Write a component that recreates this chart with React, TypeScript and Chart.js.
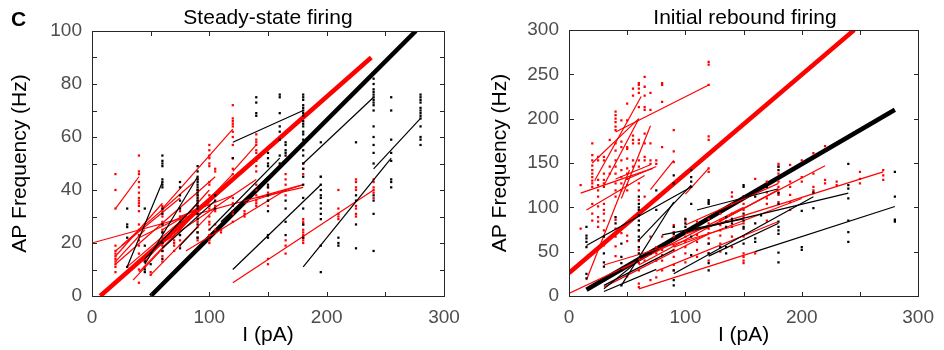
import React, { useEffect, useRef } from 'react';
import { Chart, registerables } from 'chart.js';

Chart.register(...registerables);

type Col = [number, number[]];
type Seg = [number, number, number, number];

const FONT = "'Liberation Sans', Arial, Helvetica, sans-serif";

// ---------- tick labels ----------
const xTickLabels = [0, 100, 200, 300];
const leftYTickLabels = [0, 20, 40, 60, 80, 100];
const rightYTickLabels = [0, 50, 100, 150, 200, 250, 300];

// ---------- LEFT: Steady-state firing ----------
const leftThickRed: Seg = [7, 0, 238, 90];
const leftThickBlack: Seg = [50, 0, 276, 100];

const leftBlackLines: Seg[] = [
  [120, 58, 180, 70], [180, 50, 240, 75], [240, 48, 280, 67], [180, 11, 255, 52],
  [120, 10, 195, 42], [30, 11, 60, 43], [45, 12, 90, 45], [45, 14, 90, 35],
  [60, 18, 105, 36], [75, 19, 90, 26], [100, 25, 160, 52], [110, 28, 150, 45],
];

const leftRedLines: Seg[] = [
  [120, 5, 240, 40], [0, 20, 180, 42], [20, 33, 40, 45], [60, 33, 120, 63],
  [120, 47, 140, 57], [20, 15, 60, 35], [20, 12, 105, 45], [20, 17, 75, 37],
  [30, 11, 75, 28], [35, 6, 90, 32], [40, 9, 120, 46], [45, 13, 100, 40],
  [60, 20, 140, 44], [80, 17, 165, 40], [130, 35, 180, 42], [140, 37, 180, 41],
  [25, 19, 87, 43], [20, 13, 45, 25], [40, 22, 100, 35], [50, 8, 105, 33],
  [60, 25, 100, 36], [75, 30, 120, 38],
];

const leftRedPoints: Col[] = [
  [20, [46, 40, 33, 19, 17, 16, 15, 14, 13, 12, 11, 9]],
  [40, [53, 47, 46, 43, 41, 39, 37, 36, 35, 34, 32, 27, 25, 23, 21, 19, 16, 10, 5]],
  [45, [14, 13, 11]],
  [50, [9, 8]],
  [60, [34, 33, 32, 30, 28, 27, 25, 24, 22, 20, 19, 17, 15, 13]],
  [70, [25, 24, 21, 20, 19, 17]],
  [75, [32, 30, 29, 27, 25, 23, 21, 19]],
  [90, [44, 40, 38, 36, 34, 33, 32, 30, 28, 26, 24, 22, 21]],
  [100, [57, 55, 53, 52, 50, 49, 43, 42, 38, 36, 34, 33, 30, 28, 27, 25, 23, 21, 20]],
  [105, [48, 47, 34, 32, 27, 25]],
  [110, [25, 24]],
  [120, [72, 67, 66, 65, 64, 62, 60, 57, 52, 48, 46, 37, 35, 34, 32, 31, 28]],
  [130, [32, 31, 30]],
  [140, [61, 59, 58, 57, 55, 54, 52, 51, 49, 47, 42, 40, 38, 36, 35, 34]],
  [150, [41, 39, 38, 36, 34, 14, 12]],
  [165, [46, 44, 42, 40, 38, 21, 19, 16]],
  [180, [50, 48, 46, 29, 28, 27, 25, 24, 23, 22, 21, 20]],
  [195, [45]],
  [210, [40, 33, 31, 30, 29]],
  [225, [44, 43, 41, 40, 34, 33, 31, 30]],
  [240, [44, 43, 41, 40, 39, 37]],
];

const leftBlackPoints: Col[] = [
  [30, [33, 27, 26, 22, 11]],
  [45, [33, 19, 13, 10, 9]],
  [50, [12]],
  [60, [53, 51, 50, 49, 44, 43, 42, 41, 33, 31, 27, 24, 20, 17, 14]],
  [75, [43, 41, 38, 36, 33, 28, 23, 18]],
  [90, [49, 47, 45, 44, 43, 42, 41, 40, 39, 38, 37, 36, 35, 34, 33, 31, 29, 27, 24, 22]],
  [105, [38, 36, 33]],
  [120, [52]],
  [140, [75, 73, 69, 68]],
  [150, [54, 52, 50, 49, 42, 41, 38, 36, 32, 23, 22]],
  [160, [76, 75, 69, 64, 62, 59, 53, 50]],
  [165, [58, 57, 55, 54, 53, 36, 33, 28, 23]],
  [180, [76, 75, 74, 72, 71, 70, 69, 68, 66, 65, 64, 62, 61, 59, 57, 55, 53, 50, 48, 45, 42, 37, 33, 27, 22]],
  [195, [58, 45, 42, 40, 38, 37, 35, 33, 31, 29, 19, 9]],
  [210, [22, 20, 19]],
  [225, [58, 38, 36, 27, 18]],
  [240, [82, 80, 78, 77, 76, 75, 74, 73, 72, 70, 64, 60, 57, 54, 50, 38, 36, 31, 17]],
  [255, [75, 70, 59, 54, 51, 44, 43, 41]],
  [280, [76, 75, 74, 73, 71, 70, 69, 68, 67, 64, 60, 59, 57]],
];

// ---------- RIGHT: Initial rebound firing ----------
const rightThickRed: Seg = [0, 26, 245, 300];
const rightThickBlack: Seg = [15, 7, 280, 210];

const rightRedLines: Seg[] = [
  [40, 185, 120, 238], [20, 150, 60, 200], [22, 130, 62, 225], [30, 125, 60, 200],
  [45, 110, 70, 192], [40, 132, 70, 148], [50, 132, 75, 146], [70, 120, 90, 153],
  [100, 115, 120, 144], [10, 116, 72, 144], [15, 97, 65, 136], [15, 18, 52, 142],
  [0, 3, 60, 40], [30, 35, 150, 82], [60, 8, 160, 50], [75, 28, 180, 84],
  [100, 80, 180, 127], [130, 85, 220, 147], [100, 70, 270, 140], [45, 30, 150, 100],
  [60, 35, 180, 120], [30, 10, 120, 70], [90, 55, 200, 110],
];

const rightBlackLines: Seg[] = [
  [15, 57, 105, 123], [45, 12, 90, 106], [60, 63, 105, 125], [80, 69, 150, 87],
  [30, 12, 90, 52], [30, 5, 75, 30], [30, 8, 60, 40], [100, 72, 240, 116],
  [90, 25, 210, 112], [120, 45, 180, 82], [160, 50, 280, 101], [110, 97, 180, 121],
];

const rightRedPoints: Col[] = [
  [10, [125, 76]],
  [20, [172, 159, 153, 147, 142, 138, 134, 130, 127, 123, 104, 93, 85]],
  [25, [157, 153, 131, 125, 119, 112, 101, 89, 84, 78]],
  [30, [157, 153, 138, 131, 127, 123, 104, 97, 93, 85, 74, 61, 57]],
  [35, [176, 146, 138]],
  [40, [208, 204, 200, 196, 191, 187, 172, 164, 153, 146, 138, 127, 119, 112, 86, 76, 67, 56, 45]],
  [45, [198, 174, 168, 153, 142, 134, 127, 119, 71]],
  [50, [217, 198, 168, 166, 155, 144, 138, 132, 125, 119, 68, 62, 22]],
  [55, [234, 226, 181, 176, 172, 153, 146]],
  [60, [240, 238, 234, 229, 213, 176, 172, 153, 146, 127, 119, 108, 74, 62, 52, 42, 37, 29, 14, 10]],
  [65, [247, 236, 226, 213, 210, 183, 172, 157, 153, 112, 40]],
  [70, [229, 210, 172, 153, 149, 67, 48, 18]],
  [75, [153, 149, 55, 48, 40, 21]],
  [80, [240, 238, 219, 168, 67, 52, 46, 40, 29]],
  [90, [187, 163, 151, 80, 72, 67, 57, 52, 44, 35, 29]],
  [100, [85, 74, 67, 61, 55, 48, 38]],
  [110, [84, 76, 69, 61, 52, 44]],
  [120, [264, 261, 238, 180, 176, 144, 140, 87, 82, 76, 71, 65, 59, 48, 40]],
  [130, [93, 85, 80, 74, 68, 59, 50]],
  [140, [117, 112, 104, 93, 85, 78, 67, 55]],
  [150, [112, 104, 97, 89, 82, 67, 48, 44, 40, 37]],
  [160, [132, 48]],
  [170, [129, 117, 110, 104, 85]],
  [180, [149, 146, 138, 129, 123, 117, 114, 106]],
  [190, [148, 129, 123, 114, 106, 97]],
  [200, [153, 134, 129]],
  [210, [161, 138, 123, 119, 116]],
  [220, [169, 131, 127]],
  [230, [129, 125]],
  [250, [140, 132, 127]],
  [270, [142, 136, 131]],
];

const rightBlackPoints: Col[] = [
  [15, [78, 68, 65, 61, 55, 25, 20]],
  [30, [67, 48, 38, 33]],
  [40, [89, 82]],
  [45, [59, 44, 37, 29, 12]],
  [60, [112, 104, 100, 97, 91, 85, 80, 74, 67, 63, 55, 48]],
  [70, [48]],
  [75, [119, 97]],
  [90, [136, 127, 78, 70, 29, 18, 12]],
  [100, [87, 82, 78]],
  [105, [142, 134, 129, 123, 104, 67, 46]],
  [120, [108, 106, 104, 59, 48, 37, 29]],
  [130, [55]],
  [135, [89, 84, 78, 55, 48]],
  [140, [87, 82]],
  [150, [125, 123, 112, 93, 85, 78, 76, 59]],
  [160, [119, 112, 82, 65, 61]],
  [165, [91]],
  [170, [123]],
  [180, [146, 142, 116, 104, 84, 78, 74, 70, 49, 38]],
  [200, [96, 55, 52]],
  [210, [117, 99]],
  [240, [149, 125, 121, 110, 85, 72, 61]],
  [280, [140, 112, 86, 84]],
];

// ---------- helpers ----------
const RED = '#ff0000';
const BLACK = '#000000';

function pointDataset(cols: Col[], color: string) {
  return {
    data: cols.flatMap(([x, ys]) => ys.map((y) => ({ x, y }))),
    showLine: false,
    pointStyle: 'rect',
    pointRadius: 1.6,
    pointBorderWidth: 0,
    backgroundColor: color,
    borderColor: color,
  };
}

function segDatasets(segs: Seg[], color: string, width: number) {
  return segs.map((s) => ({
    data: [{ x: s[0], y: s[1] }, { x: s[2], y: s[3] }],
    showLine: true,
    pointRadius: 0,
    borderColor: color,
    borderWidth: width,
    fill: false,
    tension: 0,
  }));
}

const framePlugin = {
  id: 'frame',
  afterDatasetsDraw(chart: any) {
    const { ctx, chartArea } = chart;
    const { left, right, top, bottom } = chartArea;
    const xs = chart.scales.x;
    const ys = chart.scales.y;
    const L = 4.5;
    ctx.save();
    ctx.strokeStyle = '#262626';
    ctx.lineWidth = 1;
    const l = Math.round(left) + 0.5;
    const r = Math.round(right) + 0.5;
    const t = Math.round(top) + 0.5;
    const b = Math.round(bottom) + 0.5;
    ctx.strokeRect(l, t, r - l, b - t);
    ctx.beginPath();
    xs.ticks.forEach((tk: any) => {
      const px = Math.round(xs.getPixelForValue(tk.value)) + 0.5;
      ctx.moveTo(px, b); ctx.lineTo(px, b - L);
      ctx.moveTo(px, t); ctx.lineTo(px, t + L);
    });
    ys.ticks.forEach((tk: any) => {
      const py = Math.round(ys.getPixelForValue(tk.value)) + 0.5;
      ctx.moveTo(l, py); ctx.lineTo(l + L, py);
      ctx.moveTo(r, py); ctx.lineTo(r - L, py);
    });
    ctx.stroke();
    ctx.restore();
  },
};

interface PanelProps {
  redPts: Col[]; blackPts: Col[]; redLines: Seg[]; blackLines: Seg[];
  thickRed: Seg; thickBlack: Seg;
  yMax: number; yStep: number; yLabels: number[];
  yAxisWidth: number; xAxisHeight: number; padRight: number; padTop: number;
  yTitlePad: number;
}

function Panel(p: PanelProps) {
  const ref = useRef<HTMLCanvasElement>(null);
  useEffect(() => {
    if (!ref.current) return;
    const datasets: any[] = [
      pointDataset(p.blackPts, BLACK),
      ...segDatasets(p.blackLines, BLACK, 1.2),
      pointDataset(p.redPts, RED),
      ...segDatasets(p.redLines, RED, 1.2),
      ...segDatasets([p.thickBlack], BLACK, 4.5),
      ...segDatasets([p.thickRed], RED, 4.5),
    ];
    const chart = new Chart(ref.current, {
      type: 'scatter',
      data: { datasets },
      plugins: [framePlugin],
      options: {
        animation: false,
        responsive: false,
        events: [],
        layout: { padding: { top: p.padTop, right: p.padRight, left: 0, bottom: 0 } },
        plugins: { legend: { display: false }, tooltip: { enabled: false }, title: { display: false } },
        scales: {
          x: {
            type: 'linear', min: 0, max: 300,
            grid: { display: false, drawTicks: false },
            border: { display: false },
            ticks: {
              stepSize: 50, autoSkip: false, maxRotation: 0, padding: 10,
              color: '#4d4d4d', font: { family: FONT, size: 19 },
              callback: (v: any) => (xTickLabels.includes(Number(v)) ? String(v) : ''),
            },
            title: {
              display: true, text: 'I (pA)', color: '#000',
              font: { family: FONT, size: 21 }, padding: { top: 0, bottom: 2 },
            },
            afterFit: (s: any) => { s.height = p.xAxisHeight; },
          },
          y: {
            type: 'linear', min: 0, max: p.yMax,
            grid: { display: false, drawTicks: false },
            border: { display: false },
            ticks: {
              stepSize: p.yStep, autoSkip: false, padding: 10,
              color: '#4d4d4d', font: { family: FONT, size: 19 },
              callback: (v: any) => (p.yLabels.includes(Number(v)) ? String(v) : ''),
            },
            title: {
              display: true, text: 'AP Frequency (Hz)', color: '#000',
              font: { family: FONT, size: 21 }, padding: { top: p.yTitlePad, bottom: 0 },
            },
            afterFit: (s: any) => { s.width = p.yAxisWidth; },
          },
        },
      } as any,
    });
    return () => chart.destroy();
  }, []);
  return <canvas ref={ref} width={472} height={350} style={{ display: 'block', width: 472, height: 350 }} />;
}

const titleStyle: React.CSSProperties = {
  position: 'absolute', top: 5, fontFamily: FONT, fontSize: 21, lineHeight: '24px',
  textAlign: 'center', color: '#000', whiteSpace: 'nowrap',
};

export default function App() {
  return (
    <div style={{ position: 'absolute', left: 0, top: 0, width: 944, height: 350, background: '#fff' }}>
      <div style={{ position: 'absolute', left: 0, top: 0 }}>
        <Panel redPts={leftRedPoints} blackPts={leftBlackPoints} redLines={leftRedLines}
          blackLines={leftBlackLines} thickRed={leftThickRed} thickBlack={leftThickBlack}
          yMax={100} yStep={10} yLabels={leftYTickLabels}
          yAxisWidth={92} xAxisHeight={54} padRight={28} padTop={31} yTitlePad={8} />
      </div>
      <div style={{ position: 'absolute', left: 472, top: 0 }}>
        <Panel redPts={rightRedPoints} blackPts={rightBlackPoints} redLines={rightRedLines}
          blackLines={rightBlackLines} thickRed={rightThickRed} thickBlack={rightThickBlack}
          yMax={300} yStep={50} yLabels={rightYTickLabels}
          yAxisWidth={97} xAxisHeight={54} padRight={23} padTop={30} yTitlePad={16} />
      </div>
      <div style={{ ...titleStyle, left: 92, width: 352 }}>Steady-state firing</div>
      <div style={{ ...titleStyle, left: 569, width: 352 }}>Initial rebound firing</div>
      <div style={{ position: 'absolute', left: 11, top: 7, fontFamily: FONT, fontSize: 21,
        fontWeight: 'bold', lineHeight: '24px', color: '#000' }}>C</div>
    </div>
  );
}
